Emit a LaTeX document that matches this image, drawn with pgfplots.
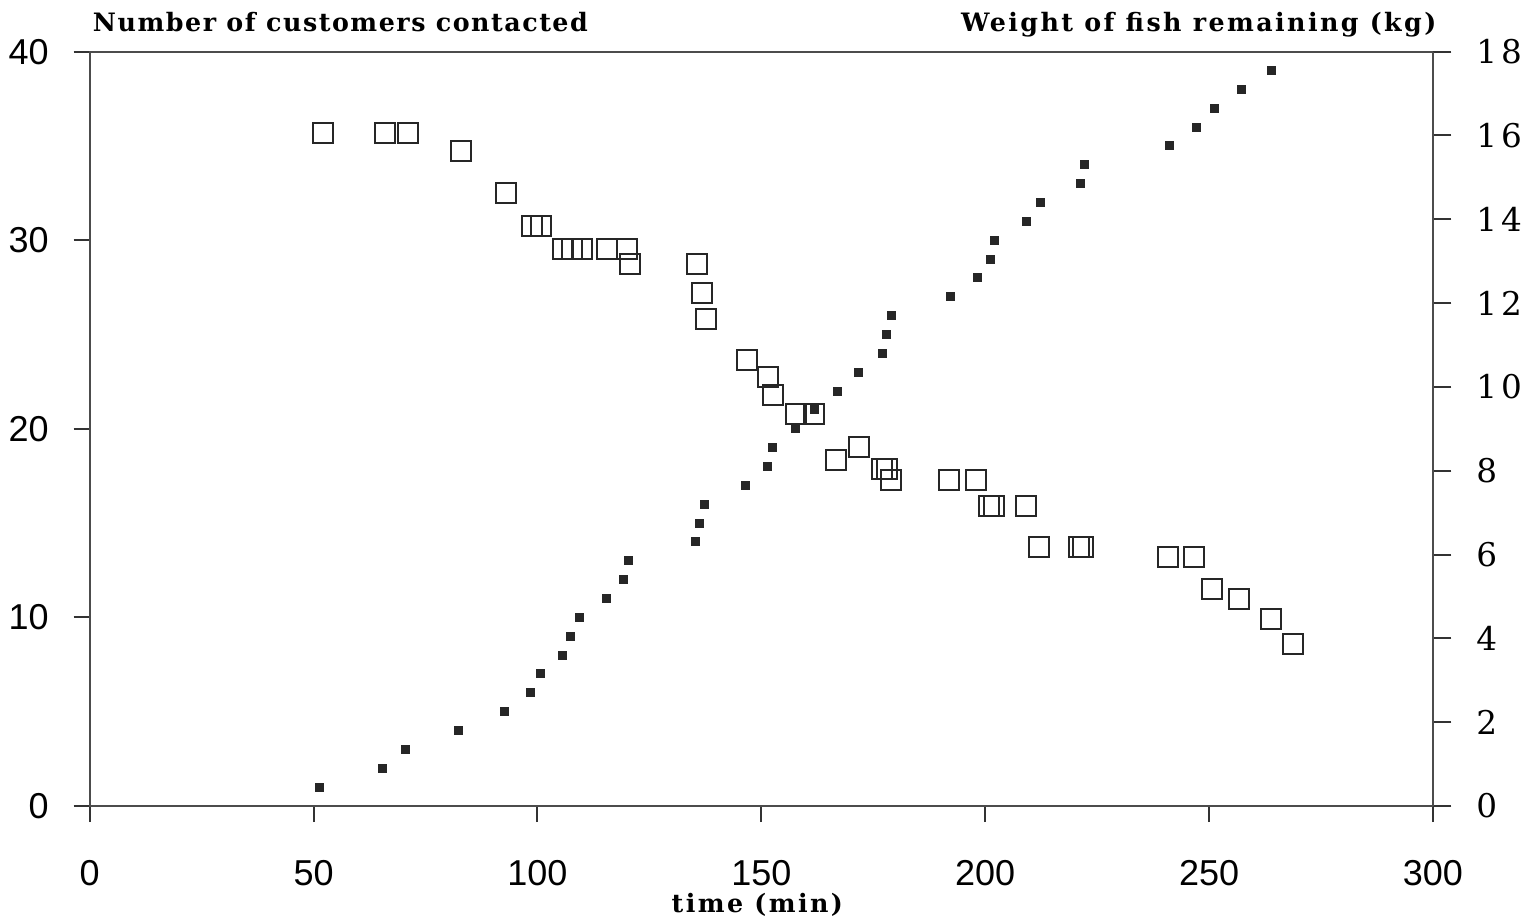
\documentclass[border=0pt]{standalone}
\usepackage{fontspec}
\setmainfont{Liberation Sans}
\newfontfamily\titlefont[LetterSpace=6]{DejaVu Serif}
\newfontfamily\titlefontwide[LetterSpace=9.5]{DejaVu Serif}
\newfontfamily\rightfont[LetterSpace=12]{DejaVu Serif}
\usepackage{pgfplots}
\usepackage{pgfplotstable}
\pgfplotsset{compat=1.18}

% customers contacted (left axis)
\pgfplotstableread{
t n
51.3 1
65.3 2
70.5 3
82.4 4
92.6 5
98.4 6
100.6 7
105.5 8
107.3 9
109.5 10
115.4 11
119.3 12
120.4 13
135.4 14
136.3 15
137.4 16
146.4 17
151.3 18
152.4 19
157.6 20
161.8 21
166.9 22
171.8 23
177.0 24
177.9 25
179.0 26
192.2 27
198.2 28
201.1 29
202.0 30
209.2 31
212.3 32
221.2 33
222.1 34
241.1 35
247.1 36
251.1 37
257.2 38
264.0 39
}\customers

% fish remaining (right axis)
\pgfplotstableread{
t kg
52.0 16.06
65.9 16.06
71.0 16.06
83.0 15.63
92.9 14.62
98.8 13.85
100.8 13.85
105.8 13.30
107.7 13.30
109.9 13.30
115.5 13.30
119.9 13.30
120.7 12.93
135.6 12.93
136.7 12.23
137.7 11.63
146.7 10.64
151.6 10.23
152.6 9.80
157.7 9.36
161.8 9.36
166.7 8.25
171.9 8.56
177.0 8.05
178.0 8.05
178.9 7.77
191.9 7.77
197.9 7.77
200.9 7.17
201.9 7.17
209.0 7.17
212.0 6.18
220.9 6.18
221.9 6.18
240.9 5.94
246.7 5.94
250.7 5.18
256.7 4.94
263.8 4.46
268.8 3.86
}\fish

\begin{document}
\begin{tikzpicture}
\useasboundingbox (-26.9pt,-34.8pt) rectangle (429.4pt,241.8pt);
\begin{axis}[
  scale only axis, width=403pt, height=226.3pt,
  xmin=0, xmax=300, ymin=0, ymax=40,
  xtick={0,50,...,300}, ytick={0,10,...,40},
  xtick pos=left, ytick pos=left,
  tick align=outside, major tick length=4.8pt,
  axis line style={draw=black!70, line width=0.6pt},
  tick style={draw=black!80, line width=0.6pt},
  /pgf/number format/assume math mode=true,
  ticklabel style={font=\fontsize{10.8}{12}\selectfont},
  xticklabel style={anchor=north, yshift=-8pt},
  yticklabel style={anchor=east, xshift=-4pt},
  clip=false,
]
\addplot[only marks, mark=square*, mark size=1.2pt,
  mark options={draw=black!85, fill=black!85, line width=0.3pt}]
  table[x=t, y=n] {\customers};
\node[anchor=base west, inner sep=0pt, font=\titlefont\bfseries\fontsize{7.6}{9}\selectfont]
  at (rel axis cs:0,1) [xshift=0.8pt, yshift=6pt] {Number of customers contacted};
\node[anchor=base east, inner sep=0pt, font=\titlefontwide\bfseries\fontsize{7.6}{9}\selectfont]
  at (rel axis cs:1,1) [xshift=1.2pt, yshift=6pt] {Weight of fish remaining (kg)};
\node[anchor=base, inner sep=0pt, font=\titlefontwide\bfseries\fontsize{7.6}{9}\selectfont]
  at (rel axis cs:0.497,0) [yshift=-32pt] {time (min)};
\end{axis}
\begin{axis}[
  scale only axis, width=403pt, height=226.3pt,
  xmin=0, xmax=300, ymin=0, ymax=18,
  axis x line=none, axis y line*=right,
  ytick={0,2,...,18},
  tick align=outside, major tick length=5.5pt,
  axis line style={draw=black!70, line width=0.6pt, -},
  tick style={draw=black!80, line width=0.6pt},
  /pgf/number format/assume math mode=true,
  yticklabel style={anchor=west, xshift=4pt, font=\rightfont\fontsize{9.8}{11}\selectfont},
  clip=false,
]
\addplot[only marks, mark=square, mark size=3pt,
  mark options={draw=black!85, line width=0.6pt, fill=none}]
  table[x=t, y=kg] {\fish};
\end{axis}
\end{tikzpicture}
\end{document}
